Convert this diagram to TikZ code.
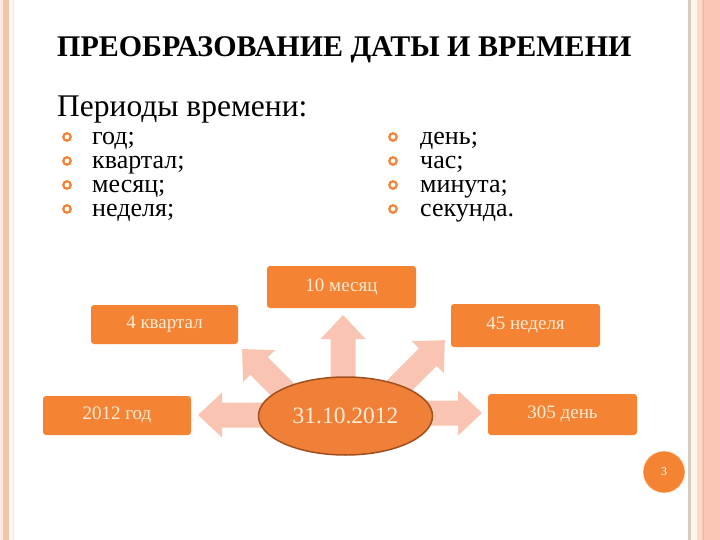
\documentclass[tikz,border=0pt]{standalone}
\usepackage{fontspec}
\usetikzlibrary{shapes.geometric}
\setmainfont{Liberation Serif}
\definecolor{boxorange}{RGB}{244,131,52}
\definecolor{elliorange}{RGB}{240,128,56}
\definecolor{ellidraw}{RGB}{160,80,30}
\definecolor{arrowpink}{RGB}{249,197,178}
\definecolor{cream}{RGB}{252,236,214}
\definecolor{brdsalmon}{RGB}{244,196,170}
\definecolor{brdlight}{RGB}{252,235,226}
\definecolor{brdgray}{RGB}{216,204,198}
\definecolor{brdcream}{RGB}{255,246,234}
\definecolor{brdpeach}{RGB}{251,217,202}
\definecolor{brdright}{RGB}{251,198,180}
\tikzset{
  obox/.style={fill=boxorange, rounded corners=3pt, inner sep=0pt, text=cream, font=\fontsize{19}{22}\selectfont},
  bul/.style={draw=boxorange, line width=2.2pt, circle, inner sep=0pt, minimum size=7.5pt},
  itemtxt/.style={anchor=base west, inner sep=0pt, text height=13pt, text depth=3pt, font=\fontsize{26}{28}\selectfont},
}
\newcommand{\blockarrow}[4]{% start, angle, length, name
  \begin{scope}[shift={#1}, rotate=#2]
    \fill[arrowpink] (0,-12.5) -- (#3-24,-12.5) -- (#3-24,-22.5) -- (#3,0) -- (#3-24,22.5) -- (#3-24,12.5) -- (0,12.5) -- cycle;
    \coordinate (#4) at (#3,0);
  \end{scope}}
\begin{document}
\begin{tikzpicture}[x=1pt,y=-1pt]
\useasboundingbox (0,0) rectangle (720,540);
\fill[white] (0,0) rectangle (720,540);
% borders
\fill[brdlight] (0,0) rectangle (3,540);
\fill[brdsalmon] (3,0) rectangle (9,540);
\fill[brdlight] (12,0) rectangle (14,540);
\fill[brdgray] (688,0) rectangle (691,540);
\fill[brdcream] (691,0) rectangle (697,540);
\fill[brdpeach] (697,0) rectangle (702,540);
\fill[brdright] (702,0) rectangle (720,540);
\fill[brdright!80!brown] (703,0) rectangle (704,540);
% title
\node[anchor=base west, inner sep=0pt, font=\fontsize{30}{34}\selectfont\bfseries] (title) at (57,57) {ПРЕОБРАЗОВАНИЕ ДАТЫ И ВРЕМЕНИ};
\node[anchor=base west, inner sep=0pt, font=\fontsize{31.5}{36}\selectfont] (periods) at (57,117) {Периоды времени:};
% bullets left
\node[bul] (b1) at (67,137) {};
\node[bul] (b2) at (67,161) {};
\node[bul] (b3) at (67,185) {};
\node[bul] (b4) at (67,209) {};
\node[itemtxt] (t1) at (92,145) {год;};
\node[itemtxt] (t2) at (92,169) {квартал;};
\node[itemtxt] (t3) at (92,193) {месяц;};
\node[itemtxt] (t4) at (92,217) {неделя;};
% bullets right
\node[bul] (b5) at (393,137) {};
\node[bul] (b6) at (393,161) {};
\node[bul] (b7) at (393,185) {};
\node[bul] (b8) at (393,209) {};
\node[itemtxt] (t5) at (420,145) {день;};
\node[itemtxt] (t6) at (420,169) {час;};
\node[itemtxt] (t7) at (420,193) {минута;};
\node[itemtxt] (t8) at (420,217) {секунда.};
% arrows
\blockarrow{(343,400)}{90}{85}{aup}
\blockarrow{(305,412)}{135}{89}{aul}
\blockarrow{(372,413)}{45}{103}{aur}
\blockarrow{(300,415)}{180}{102}{al}
\blockarrow{(390,413)}{0}{92}{ar}
% boxes
\node[obox, minimum width=149pt, minimum height=42pt] (month) at (341.5,287) {10 месяц};
\node[obox, minimum width=147pt, minimum height=39pt] (quarter) at (164.5,324.5) {4 квартал};
\node[obox, minimum width=149pt, minimum height=43pt] (week) at (525.5,325.5) {45 неделя};
\node[obox, minimum width=148pt, minimum height=39pt] (year) at (117,415.5) {2012 год};
\node[obox, minimum width=149pt, minimum height=41pt] (day) at (562.5,414.5) {305 день};
% ellipse
\node[ellipse, draw=ellidraw, line width=1.5pt, fill=elliorange, minimum width=174pt, minimum height=78pt, inner sep=0pt, text=cream, font=\fontsize{23.5}{26}\selectfont] (date) at (345.5,416) {31.10.2012};
% page number
\node[circle, fill=boxorange, draw=cream, line width=0.6pt, minimum size=42pt, inner sep=0pt, text=white, font=\fontsize{12}{14}\selectfont] (page) at (664,472) {3};
\end{tikzpicture}
\end{document}
